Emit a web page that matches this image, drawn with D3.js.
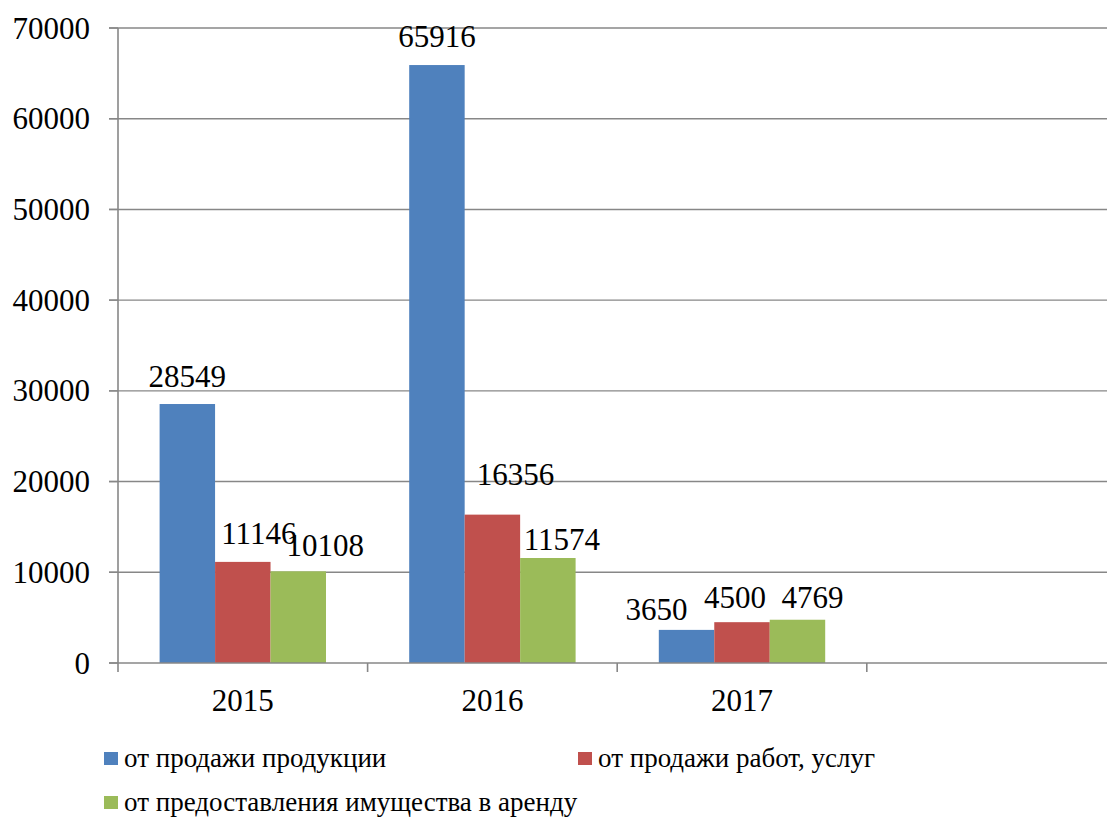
<!DOCTYPE html>
<html><head><meta charset="utf-8">
<script src="https://cdn.jsdelivr.net/npm/d3@7"></script>
<style>html,body{margin:0;padding:0;background:#fff;overflow:hidden}
svg text{font-family:"Liberation Serif","Tinos","Times New Roman","DejaVu Serif",serif;}</style>
</head><body>
<svg id="c" width="1107" height="817"></svg>
<script>
const categories = ["2015", "2016", "2017", ""];
const seriesNames = ["от продажи продукции", "от продажи работ, услуг", "от предоставления имущества в аренду"];
const salesProducts = [28549, 65916, 3650];
const salesServices = [11146, 16356, 4500];
const rentProperty = [10108, 11574, 4769];
const yTicks = [0, 10000, 20000, 30000, 40000, 50000, 60000, 70000];
const colors = ["#4F81BD", "#C0504D", "#9BBB59"];
// label nudges (dx, dy from bar top) per [category][series], layout only
const labelNudge = [
  [[0,-17],[16,-18],[27,-15]],
  [[0,-18],[23,-30],[14,-8]],
  [[-30,-10],[-7,-14],[15,-12]]
];

(function () {
const seriesValues = [salesProducts, salesServices, rentProperty];
const svg = d3.select("#c");
const plotLeft = 118, plotTop = 28, plotBottom = 663, bandW = 249.6;

const x = d3.scaleBand().domain(categories).range([plotLeft, plotLeft + bandW * categories.length]).padding(0);
const xs = d3.scaleBand().domain(d3.range(3)).range([0, x.bandwidth()]).paddingInner(0).paddingOuter(0.75);
const y = d3.scaleLinear().domain([0, 70000]).range([plotBottom, plotTop]);

const grid = "#878787";
svg.append("g").selectAll("line").data(yTicks.slice(1)).join("line")
  .attr("x1", 109).attr("x2", 1107).attr("y1", d => y(d)).attr("y2", d => y(d))
  .attr("stroke", grid).attr("stroke-width", 1.4);
svg.append("g").selectAll("line").data(yTicks).join("line")
  .attr("x1", 109).attr("x2", plotLeft).attr("y1", d => y(d)).attr("y2", d => y(d))
  .attr("stroke", grid).attr("stroke-width", 1.4);
svg.append("g").selectAll("text").data(yTicks).join("text")
  .attr("x", 90).attr("y", d => y(d)).attr("dy", "0.34em")
  .attr("text-anchor", "end").attr("font-size", 31).attr("fill", "#000")
  .text(d => d);

const rows = [];
categories.slice(0, 3).forEach((c, i) => seriesValues.forEach((arr, s) => rows.push({c, i, s, v: arr[i]})));
svg.append("g").selectAll("rect").data(rows).join("rect")
  .attr("x", d => x(d.c) + xs(d.s)).attr("width", xs.bandwidth())
  .attr("y", d => y(d.v)).attr("height", d => y(0) - y(d.v))
  .attr("fill", d => colors[d.s]);

svg.append("line").attr("x1", plotLeft).attr("x2", plotLeft).attr("y1", plotTop).attr("y2", 672)
  .attr("stroke", grid).attr("stroke-width", 1.6);
svg.append("line").attr("x1", 109).attr("x2", 1107).attr("y1", plotBottom).attr("y2", plotBottom)
  .attr("stroke", grid).attr("stroke-width", 1.6);
svg.append("g").selectAll("line").data(categories).join("line")
  .attr("x1", d => x(d) + x.bandwidth()).attr("x2", d => x(d) + x.bandwidth())
  .attr("y1", plotBottom).attr("y2", 672).attr("stroke", grid).attr("stroke-width", 1.6);

svg.append("g").selectAll("text").data(categories).join("text")
  .attr("x", d => x(d) + x.bandwidth() / 2).attr("y", 711)
  .attr("text-anchor", "middle").attr("font-size", 31).attr("fill", "#000")
  .text(d => d);

svg.append("g").selectAll("text").data(rows).join("text")
  .attr("x", d => x(d.c) + xs(d.s) + xs.bandwidth() / 2 + labelNudge[d.i][d.s][0])
  .attr("y", d => y(d.v) + labelNudge[d.i][d.s][1])
  .attr("text-anchor", "middle").attr("font-size", 31).attr("fill", "#000")
  .text(d => d.v);

const legendPos = [[104, 752], [578, 752], [104, 796]];
const lg = svg.append("g").selectAll("g").data(seriesNames).join("g")
  .attr("transform", (d, i) => `translate(${legendPos[i][0]},${legendPos[i][1]})`);
lg.append("rect").attr("width", 14).attr("height", 13).attr("fill", (d, i) => colors[i]);
lg.append("text").attr("x", 20).attr("y", 14.5).attr("font-size", 27).attr("fill", "#000")
  .text(d => d);
})();
</script>
</body></html>
